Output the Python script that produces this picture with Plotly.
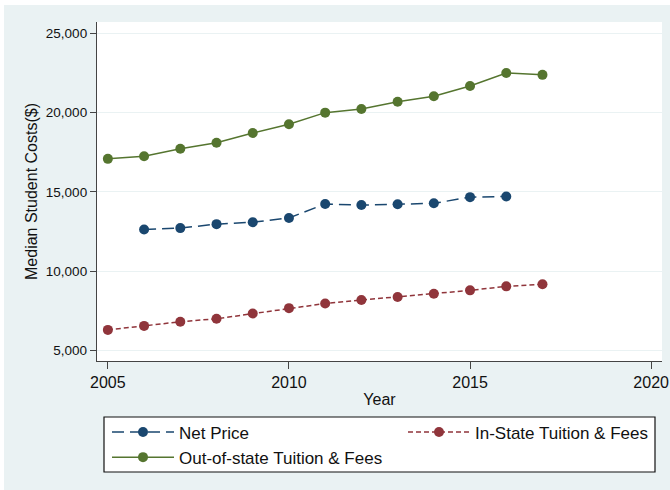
import plotly.graph_objects as go

years = list(range(2005, 2018))
net_years = list(range(2006, 2017))
net_price = [12630, 12720, 12970, 13090, 13360, 14240, 14170, 14220, 14280, 14670, 14710]
in_state = [6310, 6560, 6820, 7010, 7340, 7680, 7970, 8190, 8380, 8590, 8800, 9050, 9180]
out_state = [17080, 17250, 17720, 18100, 18710, 19260, 19990, 20220, 20680, 21020, 21670, 22490, 22370]

x_ticks = [2005, 2010, 2015, 2020]
y_ticks = [5000, 10000, 15000, 20000, 25000]
y_tick_text = ["5,000", "10,000", "15,000", "20,000", "25,000"]

navy = "#1a476f"
maroon = "#90353b"
green = "#55752f"
bg = "#eaf2f3"
font = "Liberation Sans, Arial, sans-serif"

# plot area in pixels (for converting decoration positions to paper coords)
L, R, T, B = 97, 8, 22, 129
PW, PH = 670 - L - R, 490 - T - B


def px_x(p):
    return (p - L) / PW


def px_y(p):
    return (490 - B - p) / PH


fig = go.Figure()
fig.add_trace(go.Scatter(x=net_years, y=net_price, name="Net Price", mode="lines+markers",
                         line=dict(color=navy, width=1.5, dash="12px,6px"),
                         marker=dict(color=navy, size=10), legend="legend"))
fig.add_trace(go.Scatter(x=years, y=in_state, name="In-State Tuition & Fees", mode="lines+markers",
                         line=dict(color=maroon, width=1.5, dash="5px,3px"),
                         marker=dict(color=maroon, size=10), legend="legend2"))
fig.add_trace(go.Scatter(x=years, y=out_state, name="Out-of-state Tuition & Fees", mode="lines+markers",
                         line=dict(color=green, width=1.5),
                         marker=dict(color=green, size=10), legend="legend"))

leg_common = dict(orientation="v", yanchor="top", xanchor="left", bgcolor="rgba(0,0,0,0)",
                  borderwidth=0, font=dict(size=17, family=font, color="#111"),
                  itemwidth=62, tracegroupgap=0)

fig.update_layout(
    width=670, height=490,
    margin=dict(l=L, r=R, t=T, b=B, autoexpand=False),
    paper_bgcolor=bg, plot_bgcolor="white",
    font=dict(family=font, color="#111"),
    showlegend=True,
    legend=dict(x=px_x(107), y=px_y(414.5), **leg_common),
    legend2=dict(x=px_x(403), y=px_y(414.5), **leg_common),
    xaxis=dict(range=[2004.7, 2020.3], tickvals=x_ticks, ticks="outside", ticklen=7,
               tickcolor="#444", tickwidth=1.3, showline=True, linecolor="#444", linewidth=1.3,
               showgrid=False, zeroline=False, tickfont=dict(size=16),
               title=dict(text="Year", font=dict(size=16), standoff=3)),
    yaxis=dict(range=[4350, 25700], tickvals=y_ticks, ticktext=y_tick_text, ticks="outside",
               ticklen=6, tickcolor="#444", tickwidth=1.3, showline=True, linecolor="#444",
               linewidth=1.3, showgrid=True, gridcolor=bg, gridwidth=1.2, zeroline=False,
               tickfont=dict(size=13.5),
               title=dict(text="Median Student Costs($)", font=dict(size=16), standoff=4)),
    shapes=[
        # white strips at top and left edges of the image
        dict(type="rect", xref="paper", yref="paper", x0=px_x(0), x1=px_x(670),
             y0=px_y(5), y1=px_y(0), fillcolor="white", line=dict(width=0), layer="below"),
        dict(type="rect", xref="paper", yref="paper", x0=px_x(0), x1=px_x(4),
             y0=px_y(490), y1=px_y(0), fillcolor="white", line=dict(width=0), layer="below"),
        # legend box
        dict(type="rect", xref="paper", yref="paper", x0=px_x(104), x1=px_x(655),
             y0=px_y(472), y1=px_y(417), fillcolor="white", line=dict(color="#111", width=1.2),
             layer="below"),
    ],
)

fig.write_html("out.html", config={"displayModeBar": False},
               post_script="document.body.style.margin='0';")
